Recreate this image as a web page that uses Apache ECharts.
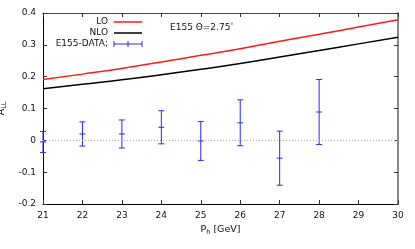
<!DOCTYPE html>
<html>
<head>
<meta charset="utf-8">
<script src="https://cdn.jsdelivr.net/npm/echarts@6/dist/echarts.min.js"></script>
<style>html,body{margin:0;padding:0;background:#fff;}#c{width:415px;height:249px;}</style>
</head>
<body>
<div id="c"></div>
<script>
// Data
var curveX = [21, 22, 23, 24, 25, 26, 27, 28, 29, 30];
var loValues = [0.191, 0.208, 0.226, 0.246, 0.267, 0.288, 0.311, 0.333, 0.356, 0.379];
var nloValues = [0.162, 0.176, 0.190, 0.206, 0.223, 0.241, 0.262, 0.282, 0.303, 0.324];
var dataX = [21, 22, 23, 24, 25, 26, 27, 28];
var dataY = [-0.005, 0.020, 0.020, 0.041, -0.002, 0.055, -0.056, 0.089];
var dataErr = [0.033, 0.038, 0.044, 0.052, 0.061, 0.072, 0.085, 0.102];
var xTicks = [21, 22, 23, 24, 25, 26, 27, 28, 29, 30];
var yTicks = [-0.2, -0.1, 0, 0.1, 0.2, 0.3, 0.4];

var FONT = 'DejaVu Sans';
var BLUE = '#2a2af0';
var chart = echarts.init(document.getElementById('c'), null, {renderer: 'canvas'});

function pairs(xs, ys) { return xs.map(function (x, i) { return [x, ys[i]]; }); }
var errData = dataX.map(function (x, i) { return [x, dataY[i], dataY[i] - dataErr[i], dataY[i] + dataErr[i]]; });

var yLabelFmt = function (v) {
  var r = Math.round(v * 10) / 10;
  return r === 0 ? '0' : String(r);
};

var option = {
  animation: false,
  textStyle: {fontFamily: FONT},
  grid: {left: 43, right: 17, top: 13, bottom: 45, containLabel: false, outerBoundsMode: 'none'},
  xAxis: [{
    type: 'value', min: 21, max: 30, interval: 1, position: 'bottom',
    axisLine: {show: true, onZero: false, lineStyle: {color: '#000', width: 1}},
    axisTick: {show: true, inside: true, length: 4, lineStyle: {color: '#333'}},
    axisLabel: {fontFamily: FONT, fontSize: 9, color: '#111', margin: 7,
      formatter: function (v) { return xTicks.indexOf(v) >= 0 ? String(v) : ''; }},
    splitLine: {show: false},
    name: 'P{s|h} [GeV]', nameLocation: 'middle', nameGap: 20,
    nameTextStyle: {fontFamily: FONT, fontSize: 9.5, color: '#111',
      rich: {s: {fontFamily: FONT, fontSize: 6.5, padding: [5, 0, 0, 0], color: '#111'}}}
  }, {
    type: 'value', min: 21, max: 30, interval: 1, position: 'top',
    axisLine: {show: true, onZero: false, lineStyle: {color: '#444', width: 1}},
    axisTick: {show: true, inside: true, length: 4, lineStyle: {color: '#333'}},
    axisLabel: {show: false}, splitLine: {show: false}
  }],
  yAxis: [{
    type: 'value', min: -0.2, max: 0.4, interval: 0.1, position: 'left',
    axisLine: {show: true, onZero: false, lineStyle: {color: '#000', width: 1}},
    axisTick: {show: true, inside: true, length: 4, lineStyle: {color: '#333'}},
    axisLabel: {fontFamily: FONT, fontSize: 9, color: '#111', margin: 7, formatter: yLabelFmt},
    splitLine: {show: false},
    name: 'A{s|LL}', nameLocation: 'middle', nameGap: 33, nameRotate: 90,
    nameTextStyle: {fontFamily: FONT, fontSize: 9.5, color: '#111',
      rich: {s: {fontFamily: FONT, fontSize: 6.5, padding: [5, 0, 0, 0], color: '#111'}}}
  }, {
    type: 'value', min: -0.2, max: 0.4, interval: 0.1, position: 'right',
    axisLine: {show: true, onZero: false, lineStyle: {color: '#888', width: 2}},
    axisTick: {show: true, inside: true, length: 4, lineStyle: {color: '#333'}},
    axisLabel: {show: false}, splitLine: {show: false}
  }],
  series: [{
    name: 'LO', type: 'line', data: pairs(curveX, loValues), smooth: true,
    showSymbol: false, symbol: 'none', lineStyle: {color: '#ff1a1a', width: 1.5}, z: 3,
    markLine: {
      silent: true, symbol: 'none', label: {show: false},
      lineStyle: {color: '#aaa', type: [1, 2], width: 1},
      data: [{yAxis: 0}]
    }
  }, {
    name: 'NLO', type: 'line', data: pairs(curveX, nloValues), smooth: true,
    showSymbol: false, symbol: 'none', lineStyle: {color: '#000', width: 1.5}, z: 3
  }, {
    name: 'E155-DATA;', type: 'custom', data: errData, clip: false, z: 4,
    renderItem: function (params, api) {
      var x = api.value(0);
      var c = api.coord([x, api.value(1)]);
      var lo = api.coord([x, api.value(2)]);
      var hi = api.coord([x, api.value(3)]);
      var w = 3;
      var st = {stroke: BLUE, lineWidth: 1, fill: null};
      return {type: 'group', children: [
        {type: 'line', shape: {x1: c[0], y1: lo[1], x2: c[0], y2: hi[1]}, style: st},
        {type: 'line', shape: {x1: c[0] - w, y1: lo[1], x2: c[0] + w, y2: lo[1]}, style: st},
        {type: 'line', shape: {x1: c[0] - w, y1: hi[1], x2: c[0] + w, y2: hi[1]}, style: st},
        {type: 'line', shape: {x1: c[0] - w, y1: c[1], x2: c[0] + w, y2: c[1]}, style: st}
      ]};
    },
    encode: {x: 0, y: 1}
  }],
  graphic: [
    {type: 'text', x: 108, y: 22, style: {text: 'LO', font: '9px ' + FONT, fill: '#111', align: 'right', verticalAlign: 'middle'}},
    {type: 'text', x: 108, y: 33, style: {text: 'NLO', font: '9px ' + FONT, fill: '#111', align: 'right', verticalAlign: 'middle'}},
    {type: 'text', x: 108, y: 44, style: {text: 'E155-DATA;', font: '9px ' + FONT, fill: '#111', align: 'right', verticalAlign: 'middle'}},
    {type: 'line', shape: {x1: 114, y1: 22, x2: 142, y2: 22}, style: {stroke: '#ff1a1a', lineWidth: 1.5}},
    {type: 'line', shape: {x1: 114, y1: 33, x2: 142, y2: 33}, style: {stroke: '#000', lineWidth: 1.5}},
    {type: 'line', shape: {x1: 114, y1: 44, x2: 142, y2: 44}, style: {stroke: BLUE, lineWidth: 1}},
    {type: 'line', shape: {x1: 114, y1: 41, x2: 114, y2: 47}, style: {stroke: BLUE, lineWidth: 1}},
    {type: 'line', shape: {x1: 142, y1: 41, x2: 142, y2: 47}, style: {stroke: BLUE, lineWidth: 1}},
    {type: 'line', shape: {x1: 128, y1: 41, x2: 128, y2: 47}, style: {stroke: BLUE, lineWidth: 1}},
    {type: 'text', x: 170, y: 28, style: {
      text: 'E155 Θ=2.75{d|°}', font: '9px ' + FONT, fill: '#111', verticalAlign: 'middle',
      rich: {d: {fontFamily: FONT, fontSize: 6, padding: [0, 0, 5, 0], fill: '#111'}}}}
  ]
};
chart.setOption(option);
</script>
</body>
</html>
